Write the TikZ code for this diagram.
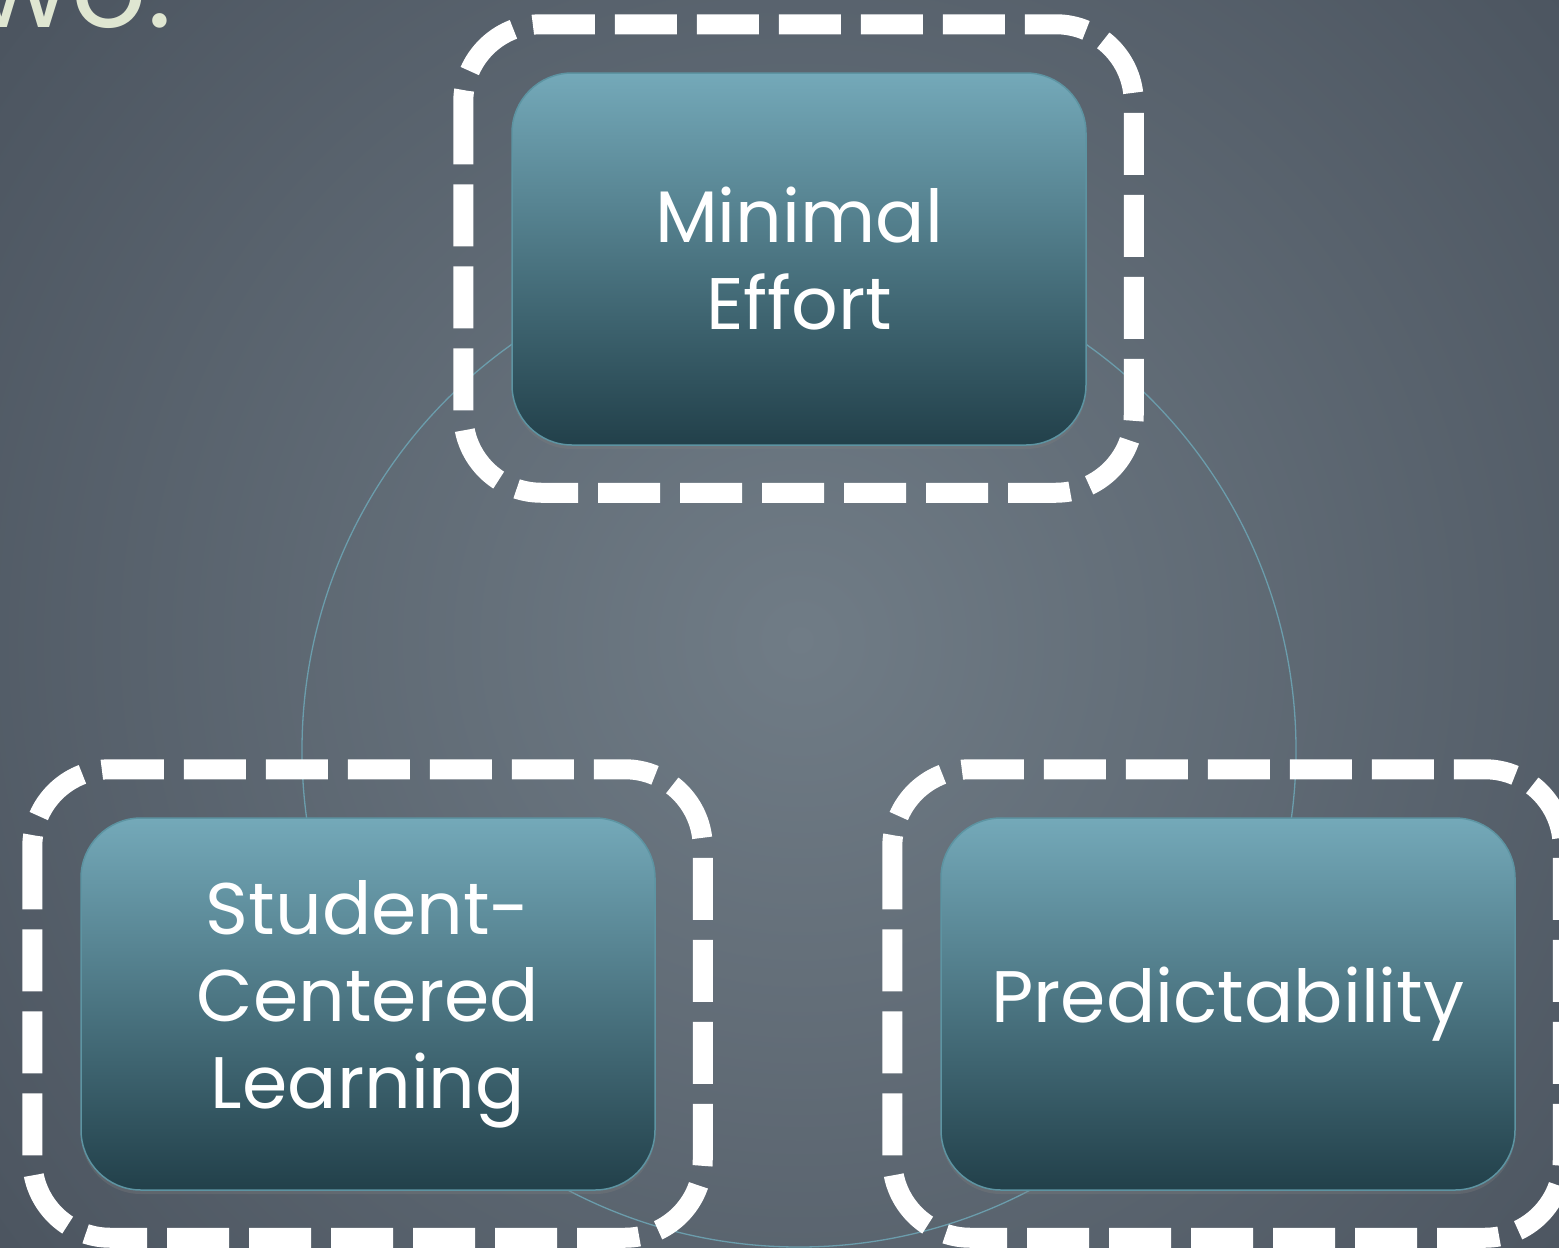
\documentclass[tikz,border=0pt]{standalone}
\usepackage{fontspec}
\setmainfont{Poppins}
\usetikzlibrary{shadows}
\definecolor{bgin}{HTML}{707C86}
\definecolor{bgout}{HTML}{4C5560}
\definecolor{boxtop}{HTML}{74A9B9}
\definecolor{boxbot}{HTML}{22404A}
\definecolor{boxedge}{HTML}{5D94A2}
\definecolor{ringc}{HTML}{6B9DAC}
\definecolor{titlec}{HTML}{DFE6D1}
\begin{document}
\begin{tikzpicture}[x=1pt,y=-1pt,
  box/.style={rectangle, rounded corners=60pt, minimum width=574pt, minimum height=372pt,
    top color=boxtop, bottom color=boxbot, draw=boxedge, line width=1.5pt,
    text=white, align=center, font=\fontsize{73}{87}\selectfont, inner sep=0pt,
    drop shadow={opacity=0.3, shadow xshift=0pt, shadow yshift=-4pt}},
  dashbox/.style={draw=white, line width=20pt, dash pattern=on 62pt off 20pt, rounded corners=78pt},
  ringline/.style={draw=ringc, line width=1.3pt}]
\useasboundingbox (0,0) rectangle (1559,1248);
\begin{scope}
  \clip (0,0) rectangle (1559,1248);
  \fill[bgout] (0,0) rectangle (1559,1248);
  \shade[inner color=bgin, outer color=bgout] (800,640) circle (1000);
  \node[font=\fontsize{118}{118}\selectfont, text=titlec, anchor=base east, inner sep=0pt] (title) at (172,27) {wo.};
  \coordinate (cc) at (799,750);
  \draw[ringline] (cc) circle (497);
  \node[box] (me) at (799,259) {Minimal\\Effort};
  \node[box] (scl) at (368,1004) {Student-\\Centered\\Learning};
  \node[box] (pr) at (1228,1004) {Predictability};
  \foreach \n in {me,scl,pr}{
    \draw[dashbox] ([xshift=-48pt,yshift=48pt]\n.north west) rectangle ([xshift=47pt,yshift=-47pt]\n.south east);
  }
\end{scope}
\end{tikzpicture}
\end{document}
